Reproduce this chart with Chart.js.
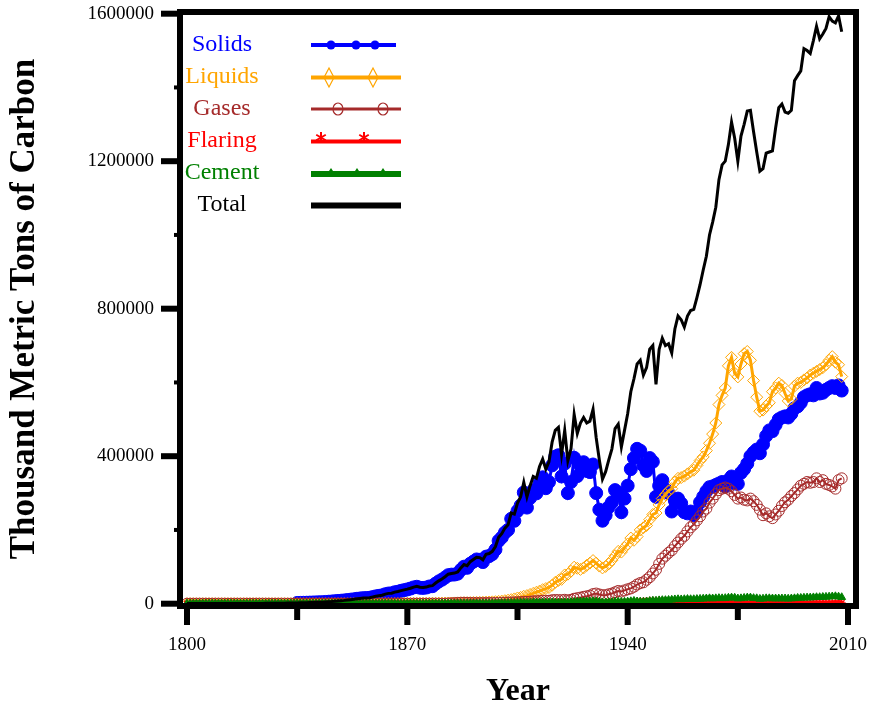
<!DOCTYPE html>
<html>
<head>
<meta charset="utf-8">
<title>Carbon emissions by fuel type</title>
<script src="https://cdn.jsdelivr.net/npm/chart.js@4"></script>
<style>
  html, body { margin: 0; padding: 0; background: #fff; }
  canvas { display: block; }
</style>
</head>
<body>
<canvas id="chart" width="871" height="712"></canvas>
<script>
// Thousand metric tons of carbon, one value per year from 1800 to 2008
const firstYear = 1800;

const solids = [
    null, null, null, null, null, null, null, null, null, null,
    null, null, null, null, null, null, null, null, null, null,
    null, null, null, null, null, null, null, null, null, null,
    null, null, null, null, null, 2000, 2200, 2450, 2650, 2950,
    3250, 3550, 3850, 4150, 4750, 5350, 5950, 6750, 7450, 8150,
    8950, 9950, 10950, 11950, 13300, 14200, 15100, 15400, 16100, 17900,
    19900, 21300, 22700, 25700, 27600, 28100, 31000, 32500, 34900, 36800,
    38700, 41100, 44100, 45900, 43400, 42900, 43800, 46700, 47600, 54500,
    60400, 65200, 71000, 77400, 78800, 79100, 81300, 91700, 100400, 97400,
    108500, 114300, 120000, 118900, 112900, 127600, 129000, 134500, 146800, 170600,
    179500, 192900, 200200, 230200, 224800, 251500, 266300, 301500, 260600, 286600,
    307500, 299200, 327300, 342800, 313200, 329900, 375200, 398800, 402600, 345000,
    380000, 300000, 330000, 395700, 346000, 375000, 383700, 360000, 356900, 377500,
    300000, 255000, 225000, 240000, 262000, 275000, 308000, 300000, 248000, 285000,
    320000, 365000, 395000, 420000, 415000, 375000, 360000, 395000, 385000, 290000,
    320000, 335000, 310000, 300000, 250000, 280000, 285000, 272000, 248000, 245000,
    250000, 240000, 250000, 275000, 290000, 305000, 316000, 318000, 322000, 326000,
    330000, 318000, 335000, 345000, 326000, 325000, 355000, 365000, 380000, 400000,
    410000, 418000, 408000, 432000, 455000, 470000, 468000, 485000, 500000, 505000,
    508000, 505000, 515000, 530000, 535000, 545000, 560000, 565000, 568000, 565000,
    585000, 570000, 572000, 580000, 585000, 590000, 585000, 592000, 578000
];

const liquids = [
    0, 0, 0, 0, 0, 0, 0, 0, 0, 0,
    0, 0, 0, 0, 0, 0, 0, 0, 0, 0,
    0, 0, 0, 0, 0, 0, 0, 0, 0, 0,
    0, 0, 0, 0, 0, 0, 0, 0, 0, 0,
    0, 0, 0, 0, 0, 0, 0, 0, 0, 0,
    0, 0, 0, 0, 0, 0, 0, 0, 0, 0,
    0, 100, 200, 250, 300, 300, 400, 450, 500, 600,
    700, 750, 800, 900, 950, 1000, 1000, 1100, 1200, 1300,
    1400, 1500, 1700, 1800, 1900, 2100, 2300, 2400, 2600, 2800,
    3000, 3300, 3600, 3800, 3900, 4200, 4600, 5000, 5500, 6300,
    7000, 8200, 9500, 11000, 13000, 15500, 17000, 20000, 22000, 25000,
    28000, 31000, 34000, 38000, 41000, 44000, 50000, 58000, 63000, 66000,
    78000, 80000, 88000, 99000, 96000, 93000, 97000, 104000, 110000, 117000,
    110000, 102000, 97000, 101000, 108000, 118000, 130000, 142000, 140000, 152000,
    162000, 178000, 172000, 182000, 200000, 206000, 212000, 228000, 242000, 246000,
    268000, 285000, 296000, 306000, 312000, 330000, 340000, 342000, 346000, 352000,
    358000, 362000, 375000, 388000, 398000, 415000, 435000, 460000, 490000, 540000,
    565000, 585000, 645000, 668000, 625000, 615000, 650000, 678000, 684000, 660000,
    605000, 560000, 522000, 525000, 536000, 545000, 575000, 585000, 598000, 592000,
    570000, 550000, 555000, 590000, 598000, 600000, 607000, 612000, 620000, 625000,
    630000, 635000, 640000, 648000, 660000, 670000, 655000, 648000, 616000
];

const gases = [
    0, 0, 0, 0, 0, 0, 0, 0, 0, 0,
    0, 0, 0, 0, 0, 0, 0, 0, 0, 0,
    0, 0, 0, 0, 0, 0, 0, 0, 0, 0,
    0, 0, 0, 0, 0, 0, 0, 0, 0, 0,
    0, 0, 0, 0, 0, 0, 0, 0, 0, 0,
    0, 0, 0, 0, 0, 0, 0, 0, 0, 0,
    0, 0, 0, 0, 0, 0, 0, 0, 0, 0,
    0, 0, 0, 0, 0, 0, 0, 0, 0, 0,
    0, 0, 0, 500, 1000, 1500, 2000, 2500, 2600, 2300,
    2000, 1900, 1800, 1700, 1600, 1600, 1700, 1800, 1900, 2200,
    2500, 2800, 3000, 3300, 3500, 4000, 4400, 4900, 4900, 5500,
    6500, 6800, 7500, 7900, 7800, 8000, 9500, 10000, 9800, 9500,
    10500, 9000, 10500, 13500, 15000, 16500, 18500, 20000, 22000, 26000,
    27500, 25000, 23000, 23000, 25500, 27500, 31000, 34500, 33000, 36000,
    39000, 41500, 46000, 52000, 56000, 58000, 65000, 72000, 82000, 92000,
    108000, 122000, 130000, 138000, 145000, 156000, 166000, 176000, 184000, 196000,
    207000, 215000, 226000, 237000, 250000, 258000, 274000, 285000, 297000, 308000,
    312000, 315000, 312000, 305000, 295000, 285000, 288000, 282000, 280000, 285000,
    278000, 268000, 255000, 240000, 245000, 237000, 232000, 242000, 252000, 265000,
    275000, 282000, 292000, 300000, 310000, 320000, 325000, 330000, 328000, 330000,
    340000, 330000, 335000, 325000, 322000, 318000, 312000, 335000, 340000
];

const flaring = [
    0, 0, 0, 0, 0, 0, 0, 0, 0, 0,
    0, 0, 0, 0, 0, 0, 0, 0, 0, 0,
    0, 0, 0, 0, 0, 0, 0, 0, 0, 0,
    0, 0, 0, 0, 0, 0, 0, 0, 0, 0,
    0, 0, 0, 0, 0, 0, 0, 0, 0, 0,
    0, 0, 0, 0, 0, 0, 0, 0, 0, 0,
    0, 0, 0, 0, 0, 0, 0, 0, 0, 0,
    0, 0, 0, 0, 0, 0, 0, 0, 0, 0,
    0, 0, 0, 0, 0, 0, 0, 0, 0, 0,
    0, 0, 0, 0, 0, 0, 0, 0, 0, 0,
    0, 0, 0, 0, 0, 0, 0, 0, 0, 0,
    0, 0, 0, 0, 0, 0, 0, 0, 0, 0,
    0, 0, 0, 0, 0, 0, 0, 0, 0, 0,
    0, 0, 0, 0, 0, 0, 2100, 2400, 3300, 3100,
    4200, 4400, 5300, 5100, 6200, 6600, 6900, 7800, 8100, 7600,
    8700, 7900, 7700, 6800, 6600, 6100, 5300, 5200, 4300, 4100,
    3600, 3200, 3100, 2700, 2800, 2500, 2600, 2300, 2400, 2100,
    2200, 1900, 2000, 1700, 1600, 1300, 1200, 1100, 900, 800,
    700, 650, 500, 550, 400, 450, 380, 420, 400, 430,
    520, 480, 620, 680, 750, 790, 920, 880, 950, 1000,
    1050, 1100, 1180, 1300, 1250, 1420, 1480, 1530, 1600
];

const cement = [
    0, 0, 0, 0, 0, 0, 0, 0, 0, 0,
    0, 0, 0, 0, 0, 0, 0, 0, 0, 0,
    0, 0, 0, 0, 0, 0, 0, 0, 0, 0,
    0, 0, 0, 0, 0, 0, 0, 0, 0, 0,
    0, 0, 0, 0, 0, 0, 0, 0, 0, 0,
    0, 0, 0, 0, 0, 0, 0, 0, 0, 0,
    0, 0, 0, 0, 0, 0, 0, 0, 0, 0,
    0, 100, 120, 120, 120, 130, 150, 150, 170, 200,
    200, 250, 250, 300, 300, 300, 350, 400, 400, 450,
    500, 500, 550, 550, 550, 600, 650, 700, 800, 900,
    1000, 1100, 1300, 1500, 1700, 2000, 2300, 2600, 2500, 2900,
    3000, 3000, 3200, 3300, 3000, 3100, 3300, 3200, 2600, 2800,
    3500, 3000, 4000, 4800, 5000, 5500, 5800, 6000, 6100, 6500,
    6000, 5000, 3500, 3500, 3800, 4000, 5000, 5200, 4800, 5000,
    5500, 6500, 7500, 6000, 5500, 5000, 6000, 7000, 8000, 8000,
    9000, 9500, 9500, 10000, 10500, 11500, 12000, 11500, 12000, 12500,
    12000, 12000, 12500, 13000, 13500, 14000, 14500, 14000, 14500, 15000,
    14500, 15000, 16000, 16500, 16000, 14000, 14500, 15500, 16500, 16500,
    15000, 14500, 13000, 13500, 14500, 14500, 14000, 14000, 14000, 14000,
    14000, 13500, 14000, 14500, 15500, 15500, 16000, 16500, 16500, 17000,
    17500, 17500, 18000, 18500, 19000, 19500, 20000, 19000, 17500
];

const total = [
    250, 260, 270, 280, 290, 310, 330, 340, 360, 380,
    400, 420, 440, 470, 480, 500, 520, 560, 580, 620,
    660, 700, 760, 800, 870, 930, 1000, 1090, 1180, 1270,
    1370, 1490, 1610, 1760, 1900, 2050, 2250, 2500, 2700, 3000,
    3300, 3600, 3900, 4200, 4800, 5400, 6000, 6800, 7500, 8200,
    9000, 10000, 11000, 12000, 13400, 14300, 15200, 15500, 16200, 18000,
    20000, 21500, 23000, 26000, 28000, 28500, 31500, 33000, 35500, 37500,
    39500, 42000, 45000, 47000, 44500, 44000, 45000, 48000, 49000, 56000,
    62000, 67000, 73000, 80000, 82000, 83000, 86000, 97000, 106000, 103000,
    114000, 120000, 126000, 125000, 119000, 134000, 136000, 142000, 155000, 180000,
    190000, 205000, 214000, 246000, 243000, 273000, 290000, 329000, 290000, 320000,
    345000, 340000, 372000, 392000, 365000, 385000, 438000, 470000, 478000, 405000,
    470000, 388000, 420000, 513000, 462000, 490000, 505000, 490000, 495000, 527000,
    450000, 390000, 338000, 358000, 390000, 420000, 475000, 487000, 425000, 470000,
    515000, 575000, 610000, 650000, 660000, 620000, 640000, 690000, 700000, 595000,
    690000, 720000, 700000, 705000, 680000, 745000, 780000, 770000, 750000, 780000,
    795000, 798000, 830000, 865000, 905000, 942000, 1000000, 1035000, 1075000, 1150000,
    1190000, 1200000, 1245000, 1306000, 1262000, 1200000, 1268000, 1300000, 1336000, 1338000,
    1280000, 1225000, 1173000, 1180000, 1222000, 1225000, 1228000, 1290000, 1345000, 1355000,
    1333000, 1330000, 1338000, 1418000, 1432000, 1445000, 1505000, 1500000, 1492000, 1527000,
    1566000, 1532000, 1545000, 1560000, 1592000, 1580000, 1575000, 1594000, 1551000
];

const years = total.map((v, i) => firstYear + i);

const xTickValues = [1800, 1870, 1940, 2010];
const xMinorTicks = [1835, 1905, 1975];
const yTickValues = [0, 400000, 800000, 1200000, 1600000];
const yMinorTicks = [200000, 600000, 1000000, 1400000];

const seriesNames = ['Solids', 'Liquids', 'Gases', 'Flaring', 'Cement', 'Total'];
const seriesColors = ['#0000ff', '#ffa500', '#a52a2a', '#ff0000', '#008000', '#000000'];

const FONT = '"Liberation Serif", "Times New Roman", serif';

function pairs(values) {
    return years.map((yr, i) => ({ x: yr, y: values[i] }));
}

// legend is drawn by hand: name on the left, sample line with markers on the right
const legendRows = [
    { text: 51,  line: 45,    end: 396, width: 4, marker: 'dot',     at: [331, 356, 375] },
    { text: 83,  line: 77.5,  end: 401, width: 4, marker: 'diamond', at: [329, 373] },
    { text: 115, line: 109,   end: 401, width: 3, marker: 'ring',    at: [338, 383] },
    { text: 147, line: 141.5, end: 401, width: 4, marker: 'star',    at: [321, 364] },
    { text: 179, line: 174,   end: 401, width: 6, marker: 'tri',     at: [331, 357, 383] },
    { text: 211, line: 205.5, end: 401, width: 6, marker: null,      at: [] }
];

function legendMarker(ctx, kind, x, y, color) {
    ctx.save();
    ctx.strokeStyle = color;
    ctx.fillStyle = color;
    ctx.lineWidth = 1.2;
    ctx.beginPath();
    if (kind === 'dot') {
        ctx.arc(x, y, 4.5, 0, Math.PI * 2);
        ctx.fill();
    } else if (kind === 'diamond') {
        ctx.moveTo(x, y - 9.5);
        ctx.lineTo(x + 5, y);
        ctx.lineTo(x, y + 9.5);
        ctx.lineTo(x - 5, y);
        ctx.closePath();
        ctx.stroke();
    } else if (kind === 'ring') {
        ctx.ellipse(x, y, 5, 6, 0, 0, Math.PI * 2);
        ctx.stroke();
    } else if (kind === 'star') {
        ctx.lineWidth = 2;
        for (let k = 0; k < 3; k++) {
            const a = Math.PI / 2 + k * Math.PI / 3;
            ctx.moveTo(x - Math.cos(a) * 5.5, y - 4 - Math.sin(a) * 5.5);
            ctx.lineTo(x + Math.cos(a) * 5.5, y - 4 + Math.sin(a) * 5.5);
        }
        ctx.stroke();
    } else if (kind === 'tri') {
        ctx.moveTo(x, y - 6);
        ctx.lineTo(x + 6, y + 3);
        ctx.lineTo(x - 6, y + 3);
        ctx.closePath();
        ctx.fill();
    }
    ctx.restore();
}

const frameAndLegend = {
    id: 'frameAndLegend',
    afterDraw(chart) {
        const { ctx, chartArea: a, scales: { x, y } } = chart;
        ctx.save();
        ctx.strokeStyle = '#000';
        ctx.lineCap = 'butt';

        // box round the plot
        ctx.lineWidth = 6;
        ctx.strokeRect(a.left, a.top, a.right - a.left, a.bottom - a.top);

        const seg = (x0, y0, x1, y1, w) => {
            ctx.lineWidth = w;
            ctx.beginPath();
            ctx.moveTo(x0, y0);
            ctx.lineTo(x1, y1);
            ctx.stroke();
        };
        xTickValues.forEach(v => {
            const px = x.getPixelForValue(v);
            seg(px, a.bottom, px, a.bottom + 19, 6);
        });
        xMinorTicks.forEach(v => {
            const px = x.getPixelForValue(v);
            seg(px, a.bottom, px, a.bottom + 14, 6);
        });
        yTickValues.forEach(v => {
            const py = y.getPixelForValue(v);
            seg(a.left, py, a.left - 19, py, 6);
        });
        yMinorTicks.forEach(v => {
            const py = y.getPixelForValue(v);
            seg(a.left, py, a.left - 6, py, 4);
        });

        // legend
        ctx.font = '24px ' + FONT;
        ctx.textAlign = 'center';
        ctx.textBaseline = 'alphabetic';
        legendRows.forEach((row, i) => {
            const color = seriesColors[i];
            ctx.fillStyle = color;
            ctx.fillText(seriesNames[i], 222, row.text);
            ctx.strokeStyle = color;
            seg(311, row.line, row.end, row.line, row.width);
            row.at.forEach(mx => legendMarker(ctx, row.marker, mx, row.line, color));
        });
        ctx.restore();
    }
};

const datasets = [
    {
        label: seriesNames[0], data: pairs(solids),
        borderColor: seriesColors[0], backgroundColor: seriesColors[0],
        borderWidth: 3, pointStyle: 'circle', pointRadius: 6.5, pointBorderWidth: 1,
        order: 6
    },
    {
        label: seriesNames[1], data: pairs(liquids),
        borderColor: seriesColors[1], backgroundColor: 'rgba(255,255,255,0)',
        borderWidth: 3, pointStyle: 'rectRot', pointRadius: 6, pointBorderWidth: 1,
        order: 5
    },
    {
        label: seriesNames[2], data: pairs(gases),
        borderColor: seriesColors[2], backgroundColor: 'rgba(255,255,255,0)',
        borderWidth: 2, pointStyle: 'circle', pointRadius: 5.5, pointBorderWidth: 1,
        order: 4
    },
    {
        label: seriesNames[3], data: pairs(flaring),
        borderColor: seriesColors[3], backgroundColor: seriesColors[3],
        borderWidth: 2, pointStyle: 'star', pointRadius: 4, pointBorderWidth: 1.5,
        order: 3
    },
    {
        label: seriesNames[4], data: pairs(cement),
        borderColor: seriesColors[4], backgroundColor: seriesColors[4],
        borderWidth: 3, pointStyle: 'triangle', pointRadius: 4.5, pointBorderWidth: 1,
        order: 2
    },
    {
        label: seriesNames[5], data: pairs(total),
        borderColor: seriesColors[5], backgroundColor: seriesColors[5],
        borderWidth: 3, pointRadius: 0,
        order: 1
    }
];

new Chart(document.getElementById('chart'), {
    type: 'line',
    data: { datasets: datasets },
    options: {
        responsive: false,
        animation: false,
        layout: { padding: { left: 4, right: 15, top: 12, bottom: 1 } },
        elements: { line: { tension: 0 } },
        plugins: {
            legend: { display: false },
            tooltip: { enabled: false }
        },
        scales: {
            x: {
                type: 'linear',
                min: 1797.78,
                max: 2012.54,
                grid: { display: false, drawTicks: false },
                border: { display: false },
                afterBuildTicks: s => { s.ticks = xTickValues.map(v => ({ value: v })); },
                afterFit: s => { s.height = 105; s.paddingLeft = 0; s.paddingRight = 0; },
                ticks: {
                    autoSkip: false,
                    maxRotation: 0,
                    padding: 28,
                    color: '#000',
                    font: { family: FONT, size: 19 },
                    callback: v => String(v)
                },
                title: {
                    display: true,
                    text: 'Year',
                    color: '#000',
                    padding: 0,
                    font: { family: FONT, size: 32, weight: 'bold' }
                }
            },
            y: {
                type: 'linear',
                min: -6240,
                max: 1604600,
                grid: { display: false, drawTicks: false },
                border: { display: false },
                afterBuildTicks: s => { s.ticks = yTickValues.map(v => ({ value: v })); },
                afterFit: s => { s.width = 176; s.paddingTop = 0; s.paddingBottom = 0; },
                ticks: {
                    autoSkip: false,
                    padding: 26,
                    color: '#000',
                    font: { family: FONT, size: 19 },
                    callback: v => String(v)
                },
                title: {
                    display: true,
                    text: 'Thousand Metric Tons of Carbon',
                    color: '#000',
                    padding: 0,
                    font: { family: FONT, size: 35, weight: 'bold' }
                }
            }
        }
    },
    plugins: [frameAndLegend]
});
</script>
</body>
</html>
